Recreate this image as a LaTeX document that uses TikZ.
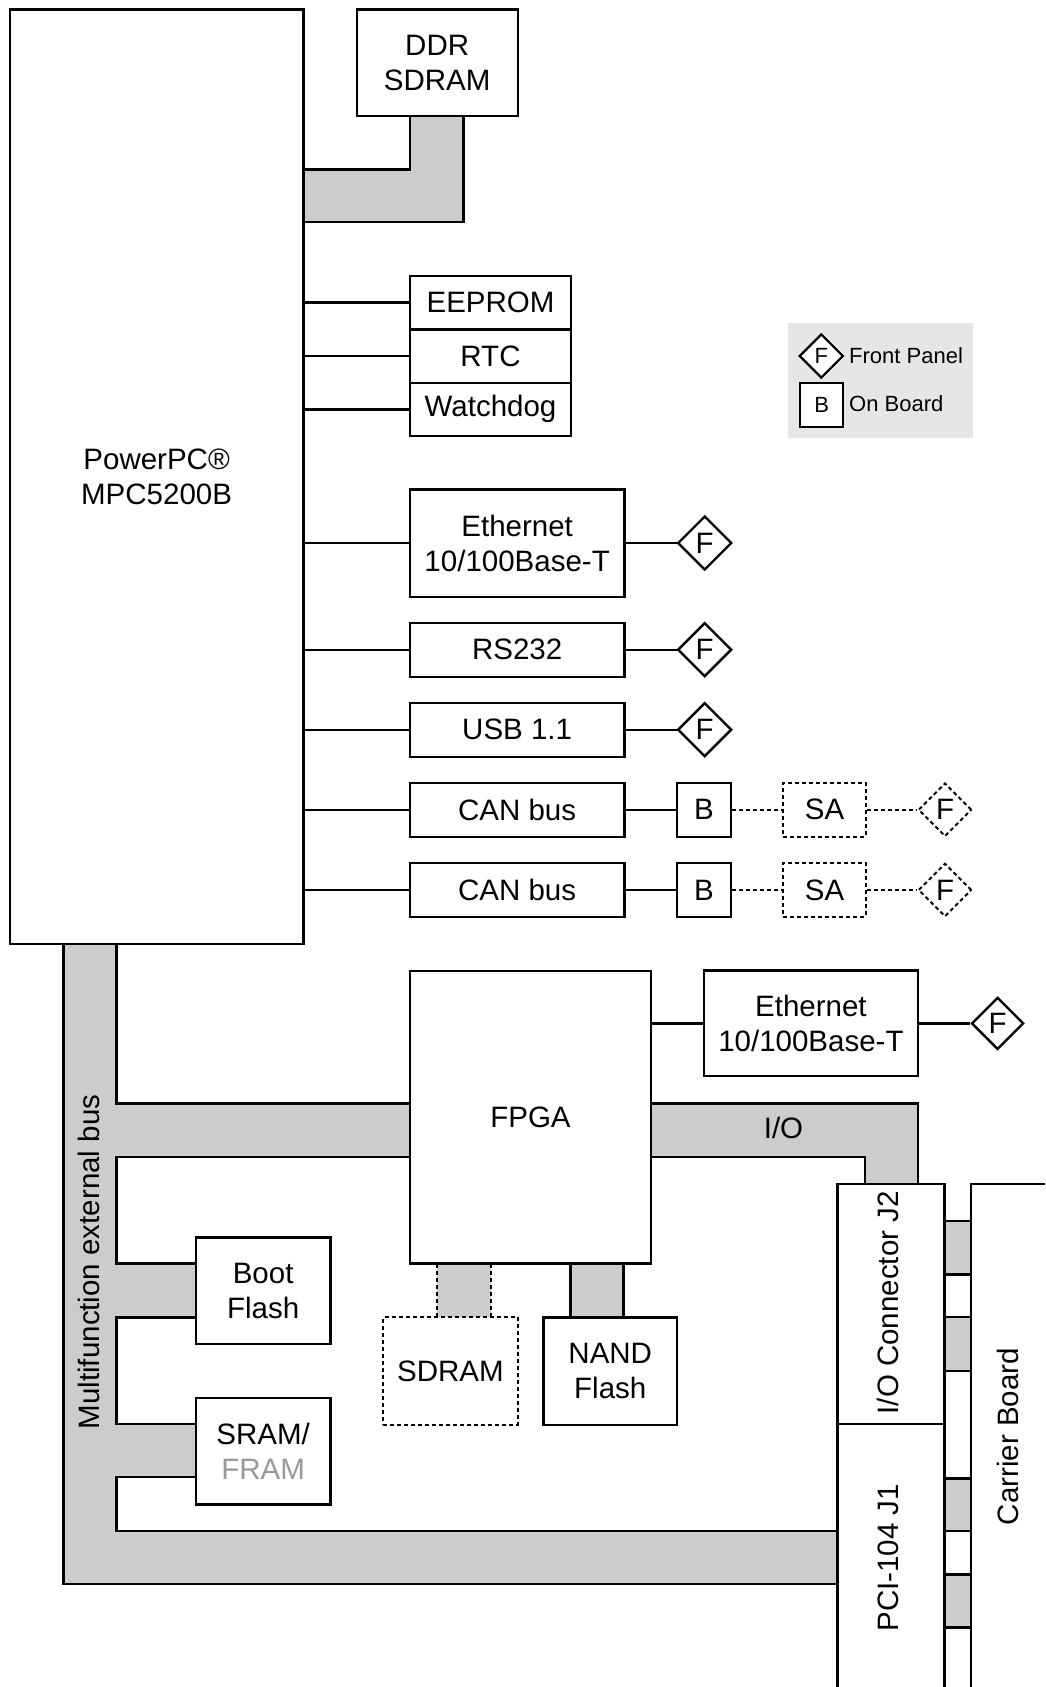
\documentclass[tikz,border=0pt]{standalone}
\usepackage{fontspec}
\setmainfont{Liberation Sans}
\usetikzlibrary{shapes.geometric}
\definecolor{busgray}{HTML}{CCCCCC}
\definecolor{leggray}{HTML}{E6E6E6}
\definecolor{framgray}{HTML}{999999}
\newcommand\fsmain{\fontsize{29.5}{35}\selectfont}
\newcommand\fsleg{\fontsize{22}{26}\selectfont}
\begin{document}
\begin{tikzpicture}[x=1pt,y=-1pt,
  lw/.style={line width=2.4pt},
  box/.style={draw, lw, fill=white, inner sep=0pt, align=center, font=\fsmain},
  dbox/.style={box, dash pattern=on 4pt off 3pt, line width=2pt},
  fp/.style={diamond, draw, lw, fill=white, inner sep=0pt, minimum width=54pt, minimum height=54pt, font=\fsmain},
  dfp/.style={fp, dash pattern=on 4pt off 3pt, line width=2pt},
  bus/.style={draw, lw, fill=busgray},
  dline/.style={line width=2pt, dash pattern=on 4pt off 3pt},
  rtext/.style={rotate=90, font=\fsmain, inner sep=0pt}
]
\useasboundingbox (0,0) rectangle (1045,1687);
\clip (0,0) rectangle (1045,1687);

% ---- buses (drawn first) ----
\draw[bus] (303.5,169.3) -| (410,115.7) -- (463.3,115.7) |- (303.5,221.7) -- cycle;
\draw[bus] (63.3,943.8) -- (63.3,1584.2) -- (837.3,1584.2) -- (837.3,1530.7)
  -- (116.3,1530.7) -- (116.3,1477) -- (195.9,1477) -- (195.9,1423.8)
  -- (116.3,1423.8) -- (116.3,1317.3) -- (195.9,1317.3) -- (195.9,1263.5)
  -- (116.3,1263.5) -- (116.3,1156.7) -- (410,1156.7) -- (410,1103.3)
  -- (116.3,1103.3) -- (116.3,943.8) -- cycle;
\draw[bus] (651,1103.3) -- (918,1103.3) -- (918,1184) -- (865,1184) -- (865,1156.7) -- (651,1156.7) -- cycle;
% FPGA memory connectors
\fill[busgray] (437,1263.5) rectangle (490.7,1317.3);
\draw[dline] (437,1263.5) -- (437,1317.3);
\draw[dline] (490.7,1263.5) -- (490.7,1317.3);
\draw[bus] (570.4,1263.5) rectangle (623.6,1317.3);
% carrier board stubs
\draw[bus] (944.3,1221) rectangle (971,1274.3);
\draw[bus] (944.3,1316.7) rectangle (971,1370.7);
\draw[bus] (944.3,1478.3) rectangle (971,1531);
\draw[bus] (944.3,1574.3) rectangle (971,1627.3);

% ---- main blocks ----
\node[box, minimum width=293.8pt, minimum height=934.3pt] (ppc) at (156.6,476.65) {PowerPC®\\MPC5200B};
\node[box, minimum width=161pt, minimum height=106.2pt] (ddr) at (437.2,62.6) {DDR\\SDRAM};

\node[box, minimum width=161pt, minimum height=53.6pt] (eeprom) at (490.5,302.5) {EEPROM};
\node[box, minimum width=161pt, minimum height=53.4pt] (rtc) at (490.5,356) {RTC};
\node[box, minimum width=161pt, minimum height=53.3pt] (wdog) at (490.5,409.35) {Watchdog};

\node[box, minimum width=214.3pt, minimum height=107.4pt] (eth1) at (517.15,543) {Ethernet\\10/100Base-T};
\node[box, minimum width=214.3pt, minimum height=54pt] (rs) at (517.15,649.7) {RS232};
\node[box, minimum width=214.3pt, minimum height=54pt] (usb) at (517.15,729.7) {USB 1.1};
\node[box, minimum width=214.3pt, minimum height=54pt] (can1) at (517.15,809.7) {CAN bus};
\node[box, minimum width=214.3pt, minimum height=54pt] (can2) at (517.15,890) {CAN bus};

\node[fp] (f1) at (704.7,543) {F};
\node[fp] (f2) at (704.7,649.7) {F};
\node[fp] (f3) at (704.7,729.7) {F};
\node[box, minimum width=54.5pt, minimum height=54pt] (b1) at (704,809.7) {B};
\node[box, minimum width=54.5pt, minimum height=54pt] (b2) at (704,890) {B};
\node[dbox, minimum width=82.4pt, minimum height=54pt] (sa1) at (824.5,809.7) {SA};
\node[dbox, minimum width=82.4pt, minimum height=54pt] (sa2) at (824.5,890) {SA};
\node[dfp, minimum width=53.4pt, minimum height=53.4pt] (f4) at (945,809.7) {F};
\node[dfp, minimum width=53.4pt, minimum height=53.4pt] (f5) at (945,890) {F};

\node[box, minimum width=241pt, minimum height=292.8pt] (fpga) at (530.5,1117.1) {FPGA};
\node[box, minimum width=214.2pt, minimum height=105.5pt] (eth2) at (810.9,1023.4) {Ethernet\\10/100Base-T};
\node[fp, minimum width=52pt, minimum height=52pt] (f6) at (997.6,1023.4) {F};
\node[font=\fsmain, inner sep=0pt] (io) at (783.5,1128) {I/O};

\node[dbox, minimum width=134.5pt, minimum height=107.6pt] (sdram) at (450.35,1371.1) {SDRAM};
\node[box, minimum width=133.5pt, minimum height=107.6pt] (nand) at (610.25,1371.1) {NAND\\Flash};
\node[box, minimum width=134.5pt, minimum height=106.6pt] (boot) at (263.15,1290.9) {Boot\\Flash};
\node[box, minimum width=134.5pt, minimum height=106.5pt] (sram) at (263.15,1451.25) {SRAM/\\\textcolor{framgray}{FRAM}};

\node[box, minimum width=107pt, minimum height=240pt] (j2) at (890.8,1304) {};
\node[box, minimum width=107pt, minimum height=326pt] (j1) at (890.8,1587) {};
\node[box, minimum width=129pt, minimum height=566pt] (carrier) at (1035.5,1467) {};
\node[rtext] (j2t) at (888.3,1302.8) {I/O Connector J2};
\node[rtext] (j1t) at (888.3,1557.7) {PCI-104 J1};
\node[rtext] (cbt) at (1008.3,1436.5) {Carrier Board};
\node[rtext] (mbt) at (89.3,1262) {Multifunction external bus};

% ---- connectors ----
\foreach \n in {eeprom,rtc,wdog,eth1,rs,usb,can1,can2}
  \draw[lw] (\n.west -| ppc.east) -- (\n.west);
\draw[lw] (eth1.east) -- (f1.west);
\draw[lw] (rs.east) -- (f2.west);
\draw[lw] (usb.east) -- (f3.west);
\draw[lw] (can1.east) -- (b1.west);
\draw[lw] (can2.east) -- (b2.west);
\draw[dline] (b1.east) -- (sa1.west);
\draw[dline] (b2.east) -- (sa2.west);
\draw[dline] (sa1.east) -- (f4.west);
\draw[dline] (sa2.east) -- (f5.west);
\draw[lw] (eth2.west -| fpga.east) -- (eth2.west);
\draw[lw] (eth2.east) -- (f6.west);

% ---- legend ----
\node[fill=leggray, inner sep=0pt, minimum width=184.4pt, minimum height=115pt] (legend) at (880.5,380.2) {};
\node[diamond, draw, line width=2.2pt, fill=white, inner sep=0pt, minimum width=44pt, minimum height=44pt, font=\fsleg] (lf) at (821.3,356) {F};
\node[draw, line width=2.2pt, fill=white, inner sep=0pt, minimum width=43.3pt, minimum height=44pt, font=\fsleg] (lb) at (821.6,404.7) {B};
\node[anchor=west, inner sep=0pt, font=\fsleg] (lft) at (849,356) {Front Panel};
\node[anchor=west, inner sep=0pt, font=\fsleg] (lbt) at (849,404) {On Board};
\end{tikzpicture}
\end{document}
